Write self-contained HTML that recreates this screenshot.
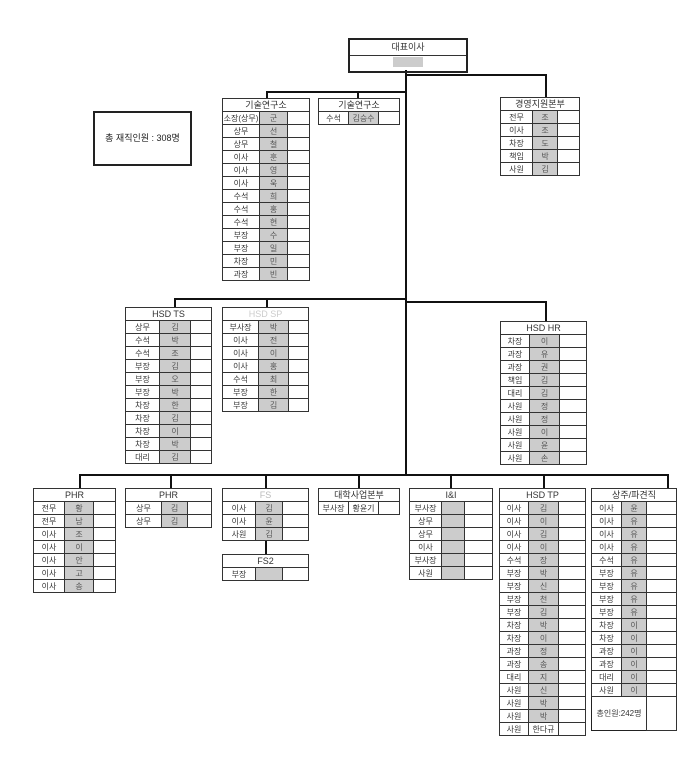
<!DOCTYPE html>
<html><head><meta charset="utf-8">
<style>
body{margin:0;width:700px;height:760px;background:#fff;position:relative;overflow:hidden;font-family:"Liberation Sans","Noto Sans CJK KR",sans-serif;color:#333}
table{position:absolute;border-collapse:collapse;table-layout:fixed;font-size:8px;border:1.5px solid #222}
td,th{border:1px solid #333;height:12px;padding:0;text-align:center;line-height:11px;font-weight:normal;white-space:nowrap;overflow:hidden}
th{font-size:9px}
td.n{background:#ccc;color:#555}
.l{position:absolute;background:#111}
</style></head><body>
<div class="l" style="left:405px;top:70px;width:2px;height:406px"></div>
<div class="l" style="left:405px;top:74px;width:141px;height:2px"></div>
<div class="l" style="left:545px;top:74px;width:2px;height:24px"></div>
<div class="l" style="left:266px;top:91px;width:140px;height:2px"></div>
<div class="l" style="left:266px;top:91px;width:2px;height:8px"></div>
<div class="l" style="left:357px;top:91px;width:2px;height:8px"></div>
<div class="l" style="left:174px;top:298px;width:232px;height:2px"></div>
<div class="l" style="left:174px;top:298px;width:2px;height:10px"></div>
<div class="l" style="left:266px;top:298px;width:2px;height:10px"></div>
<div class="l" style="left:405px;top:301px;width:141px;height:2px"></div>
<div class="l" style="left:545px;top:301px;width:2px;height:21px"></div>
<div class="l" style="left:79px;top:474px;width:590px;height:2px"></div>
<div class="l" style="left:79px;top:474px;width:2px;height:15px"></div>
<div class="l" style="left:170px;top:474px;width:2px;height:15px"></div>
<div class="l" style="left:265px;top:474px;width:2px;height:15px"></div>
<div class="l" style="left:358px;top:474px;width:2px;height:15px"></div>
<div class="l" style="left:450px;top:474px;width:2px;height:15px"></div>
<div class="l" style="left:543px;top:474px;width:2px;height:15px"></div>
<div class="l" style="left:667px;top:474px;width:2px;height:15px"></div>
<div class="l" style="left:265px;top:540px;width:2px;height:14px"></div>

<table style="left:348px;top:38px;width:120px;border-width:2px"><tr><th style="height:15px">대표이사</th></tr><tr><td style="height:15px"><span style="display:inline-block;width:30px;height:10px;background:#ccc"></span></td></tr></table>

<div style="position:absolute;left:93px;top:111px;width:95px;height:51px;border:2px solid #222;font-size:9px;line-height:51px;text-align:center;color:#222">총 재직인원 : 308명</div>

<table style="left:222px;top:98px;width:88px"><col style="width:37px"><col style="width:28px"><col>
<tr><th colspan="3">기술연구소</th></tr>
<tr><td>소장(상무)</td><td class="n">군</td><td></td></tr>
<tr><td>상무</td><td class="n">선</td><td></td></tr>
<tr><td>상무</td><td class="n">철</td><td></td></tr>
<tr><td>이사</td><td class="n">훈</td><td></td></tr>
<tr><td>이사</td><td class="n">영</td><td></td></tr>
<tr><td>이사</td><td class="n">욱</td><td></td></tr>
<tr><td>수석</td><td class="n">희</td><td></td></tr>
<tr><td>수석</td><td class="n">홍</td><td></td></tr>
<tr><td>수석</td><td class="n">현</td><td></td></tr>
<tr><td>부장</td><td class="n">수</td><td></td></tr>
<tr><td>부장</td><td class="n">일</td><td></td></tr>
<tr><td>차장</td><td class="n">민</td><td></td></tr>
<tr><td>과장</td><td class="n">빈</td><td></td></tr></table>

<table style="left:318px;top:98px;width:82px"><col style="width:30px"><col style="width:30px"><col>
<tr><th colspan="3">기술연구소</th></tr>
<tr><td>수석</td><td class="n">김승수</td><td></td></tr></table>

<table style="left:500px;top:97px;width:80px"><col style="width:32px"><col style="width:25px"><col>
<tr><th colspan="3">경영지원본부</th></tr>
<tr><td>전무</td><td class="n">조</td><td></td></tr>
<tr><td>이사</td><td class="n">조</td><td></td></tr>
<tr><td>차장</td><td class="n">도</td><td></td></tr>
<tr><td>책임</td><td class="n">박</td><td></td></tr>
<tr><td>사원</td><td class="n">김</td><td></td></tr></table>

<table style="left:125px;top:307px;width:87px"><col style="width:34px"><col style="width:31px"><col>
<tr><th colspan="3">HSD TS</th></tr>
<tr><td>상무</td><td class="n">김</td><td></td></tr>
<tr><td>수석</td><td class="n">박</td><td></td></tr>
<tr><td>수석</td><td class="n">조</td><td></td></tr>
<tr><td>부장</td><td class="n">김</td><td></td></tr>
<tr><td>부장</td><td class="n">오</td><td></td></tr>
<tr><td>부장</td><td class="n">박</td><td></td></tr>
<tr><td>차장</td><td class="n">한</td><td></td></tr>
<tr><td>차장</td><td class="n">김</td><td></td></tr>
<tr><td>차장</td><td class="n">이</td><td></td></tr>
<tr><td>차장</td><td class="n">박</td><td></td></tr>
<tr><td>대리</td><td class="n">김</td><td></td></tr></table>

<table style="left:222px;top:307px;width:87px"><col style="width:36px"><col style="width:30px"><col>
<tr><th colspan="3" style="color:#ccc">HSD SP</th></tr>
<tr><td>부사장</td><td class="n">박</td><td></td></tr>
<tr><td>이사</td><td class="n">전</td><td></td></tr>
<tr><td>이사</td><td class="n">이</td><td></td></tr>
<tr><td>이사</td><td class="n">홍</td><td></td></tr>
<tr><td>수석</td><td class="n">최</td><td></td></tr>
<tr><td>부장</td><td class="n">한</td><td></td></tr>
<tr><td>부장</td><td class="n">김</td><td></td></tr></table>

<table style="left:500px;top:321px;width:87px"><col style="width:29px"><col style="width:30px"><col>
<tr><th colspan="3">HSD HR</th></tr>
<tr><td>차장</td><td class="n">이</td><td></td></tr>
<tr><td>과장</td><td class="n">유</td><td></td></tr>
<tr><td>과장</td><td class="n">권</td><td></td></tr>
<tr><td>책임</td><td class="n">김</td><td></td></tr>
<tr><td>대리</td><td class="n">김</td><td></td></tr>
<tr><td>사원</td><td class="n">정</td><td></td></tr>
<tr><td>사원</td><td class="n">정</td><td></td></tr>
<tr><td>사원</td><td class="n">이</td><td></td></tr>
<tr><td>사원</td><td class="n">윤</td><td></td></tr>
<tr><td>사원</td><td class="n">손</td><td></td></tr></table>

<table style="left:33px;top:488px;width:83px"><col style="width:31px"><col style="width:29px"><col>
<tr><th colspan="3">PHR</th></tr>
<tr><td>전무</td><td class="n">황</td><td></td></tr>
<tr><td>전무</td><td class="n">남</td><td></td></tr>
<tr><td>이사</td><td class="n">조</td><td></td></tr>
<tr><td>이사</td><td class="n">이</td><td></td></tr>
<tr><td>이사</td><td class="n">안</td><td></td></tr>
<tr><td>이사</td><td class="n">고</td><td></td></tr>
<tr><td>이사</td><td class="n">송</td><td></td></tr></table>

<table style="left:125px;top:488px;width:87px"><col style="width:36px"><col style="width:26px"><col>
<tr><th colspan="3">PHR</th></tr>
<tr><td>상무</td><td class="n">김</td><td></td></tr>
<tr><td>상무</td><td class="n">김</td><td></td></tr></table>

<table style="left:222px;top:488px;width:87px"><col style="width:33px"><col style="width:27px"><col>
<tr><th colspan="3" style="color:#bbb">FS</th></tr>
<tr><td>이사</td><td class="n">김</td><td></td></tr>
<tr><td>이사</td><td class="n">윤</td><td></td></tr>
<tr><td>사원</td><td class="n">김</td><td></td></tr></table>

<table style="left:222px;top:554px;width:87px"><col style="width:33px"><col style="width:27px"><col>
<tr><th colspan="3">FS2</th></tr>
<tr><td>부장</td><td class="n"></td><td></td></tr></table>

<table style="left:318px;top:488px;width:82px"><col style="width:30px"><col style="width:30px"><col>
<tr><th colspan="3">대학사업본부</th></tr>
<tr><td>부사장</td><td>황윤기</td><td></td></tr></table>

<table style="left:409px;top:488px;width:84px"><col style="width:32px"><col style="width:23px"><col>
<tr><th colspan="3">I&amp;I</th></tr>
<tr><td>부사장</td><td class="n"></td><td></td></tr>
<tr><td>상무</td><td class="n"></td><td></td></tr>
<tr><td>상무</td><td class="n"></td><td></td></tr>
<tr><td>이사</td><td class="n"></td><td></td></tr>
<tr><td>부사장</td><td class="n"></td><td></td></tr>
<tr><td>사원</td><td class="n"></td><td></td></tr></table>

<table style="left:499px;top:488px;width:87px"><col style="width:29px"><col style="width:30px"><col>
<tr><th colspan="3">HSD TP</th></tr>
<tr><td>이사</td><td class="n">김</td><td></td></tr>
<tr><td>이사</td><td class="n">이</td><td></td></tr>
<tr><td>이사</td><td class="n">김</td><td></td></tr>
<tr><td>이사</td><td class="n">이</td><td></td></tr>
<tr><td>수석</td><td class="n">장</td><td></td></tr>
<tr><td>부장</td><td class="n">박</td><td></td></tr>
<tr><td>부장</td><td class="n">신</td><td></td></tr>
<tr><td>부장</td><td class="n">천</td><td></td></tr>
<tr><td>부장</td><td class="n">김</td><td></td></tr>
<tr><td>차장</td><td class="n">박</td><td></td></tr>
<tr><td>차장</td><td class="n">이</td><td></td></tr>
<tr><td>과장</td><td class="n">정</td><td></td></tr>
<tr><td>과장</td><td class="n">송</td><td></td></tr>
<tr><td>대리</td><td class="n">지</td><td></td></tr>
<tr><td>사원</td><td class="n">신</td><td></td></tr>
<tr><td>사원</td><td class="n">박</td><td></td></tr>
<tr><td>사원</td><td class="n">박</td><td></td></tr>
<tr><td>사원</td><td>한다규</td><td></td></tr></table>

<table style="left:591px;top:488px;width:86px"><col style="width:30px"><col style="width:25px"><col>
<tr><th colspan="3">상주/파견직</th></tr>
<tr><td>이사</td><td class="n">윤</td><td></td></tr>
<tr><td>이사</td><td class="n">유</td><td></td></tr>
<tr><td>이사</td><td class="n">유</td><td></td></tr>
<tr><td>이사</td><td class="n">유</td><td></td></tr>
<tr><td>수석</td><td class="n">유</td><td></td></tr>
<tr><td>부장</td><td class="n">유</td><td></td></tr>
<tr><td>부장</td><td class="n">유</td><td></td></tr>
<tr><td>부장</td><td class="n">유</td><td></td></tr>
<tr><td>부장</td><td class="n">유</td><td></td></tr>
<tr><td>차장</td><td class="n">이</td><td></td></tr>
<tr><td>차장</td><td class="n">이</td><td></td></tr>
<tr><td>과장</td><td class="n">이</td><td></td></tr>
<tr><td>과장</td><td class="n">이</td><td></td></tr>
<tr><td>대리</td><td class="n">이</td><td></td></tr>
<tr><td>사원</td><td class="n">이</td><td></td></tr>
<tr><td colspan="2" style="border:none;height:33px;font-size:8px">총인원:242명</td><td></td></tr></table>
</body></html>
